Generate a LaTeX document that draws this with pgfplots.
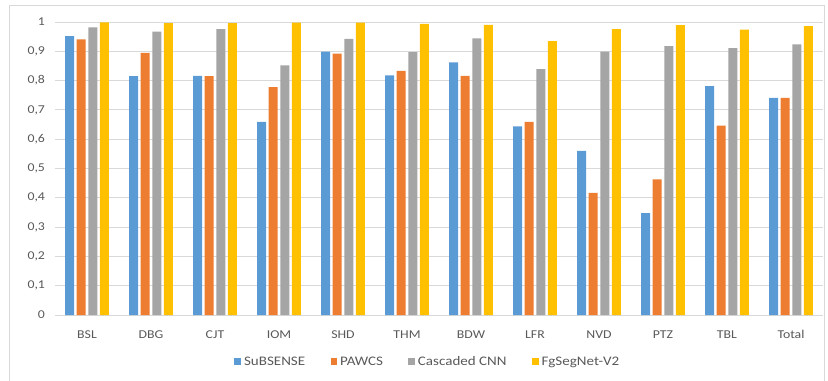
\documentclass[border=0pt]{standalone}
\usepackage{pgfplots}
\pgfplotsset{compat=1.18}
\usepackage{fontspec}
\setmainfont[FakeStretch=1.15]{Carlito}
\definecolor{cblue}{HTML}{5B9BD5}
\definecolor{corange}{HTML}{ED7D31}
\definecolor{cgray}{HTML}{A5A5A5}
\definecolor{cyellow}{HTML}{FFC000}
\definecolor{gridc}{HTML}{D9D9D9}
\definecolor{txt}{HTML}{595959}
\begin{document}
\begin{tikzpicture}
\useasboundingbox (0pt,0pt) rectangle (621pt,285pt);
\draw[gridc, line width=0.75pt] (7.1pt,-5pt) -- (7.1pt,280.7pt) -- (618pt,280.7pt) -- (618pt,-5pt);
\begin{axis}[
  at={(41.25pt,48.75pt)}, anchor=south west,
  scale only axis, width=576pt, height=219.75pt,
  ybar=1.9pt, bar width=6.75pt,
  xmin=-0.5, xmax=11.5, ymin=0, ymax=1,
  xtick=data,
  xticklabels={BSL,DBG,CJT,IOM,SHD,THM,BDW,LFR,NVD,PTZ,TBL,Total},
  ytick={0,0.1,...,1.0},
  yticklabels={0,{0,1},{0,2},{0,3},{0,4},{0,5},{0,6},{0,7},{0,8},{0,9},1},
  axis line style={draw=none},
  major tick length=0pt,
  ymajorgrids, grid style={gridc, line width=0.75pt},
  tick label style={font=\fontsize{9}{11}\selectfont, text=txt},
  xticklabel style={yshift=-8pt},
  yticklabel style={xshift=-4pt},
  legend style={at={(0.486,-0.16)}, anchor=center, draw=none, fill=none,
    legend columns=4, font=\fontsize{9.8}{11}\selectfont, text=txt,
    /tikz/every even column/.append style={column sep=17pt}},
  legend image code/.code={\fill[#1] (0pt,-2.6pt) rectangle (5.2pt,2.6pt);},
]
\addplot[fill=cblue, draw=none] coordinates {(0,0.952) (1,0.815) (2,0.816) (3,0.659) (4,0.899) (5,0.818) (6,0.862) (7,0.644) (8,0.560) (9,0.348) (10,0.781) (11,0.741)};
\addplot[fill=corange, draw=none] coordinates {(0,0.941) (1,0.895) (2,0.815) (3,0.778) (4,0.892) (5,0.833) (6,0.816) (7,0.659) (8,0.417) (9,0.463) (10,0.646) (11,0.741)};
\addplot[fill=cgray, draw=none] coordinates {(0,0.982) (1,0.967) (2,0.976) (3,0.852) (4,0.942) (5,0.897) (6,0.944) (7,0.839) (8,0.899) (9,0.918) (10,0.911) (11,0.924)};
\addplot[fill=cyellow, draw=none] coordinates {(0,0.999) (1,0.996) (2,0.996) (3,0.998) (4,0.998) (5,0.994) (6,0.990) (7,0.935) (8,0.976) (9,0.989) (10,0.974) (11,0.986)};
\legend{SuBSENSE, PAWCS, Cascaded CNN, FgSegNet-V2}
\end{axis}
\end{tikzpicture}
\end{document}
